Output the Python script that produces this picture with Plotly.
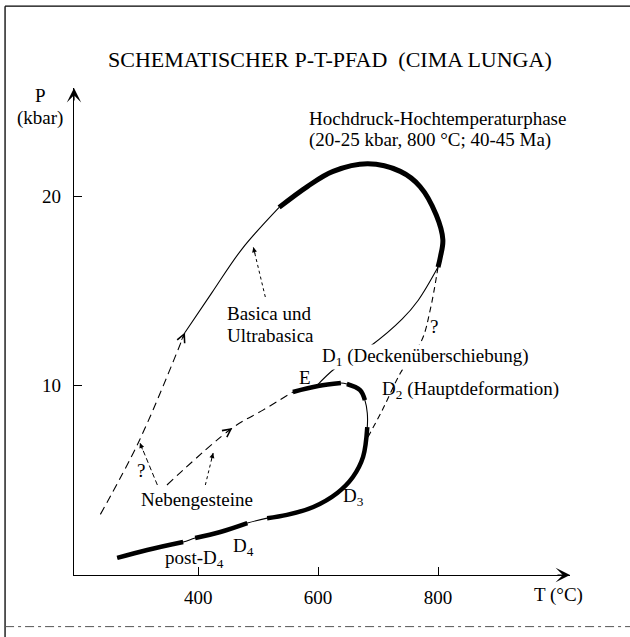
import plotly.graph_objects as go

# ---------------- data ----------------
# outer loop: Basica und Ultrabasica
outer_dashed_T = [237, 302, 378]
outer_dashed_P = [3.2, 7.1, 12.8]
outer_thin_T = [378, 423, 473, 535]
outer_thin_P = [12.8, 14.9, 17.2, 19.4]
outer_thick_T = [535, 582, 625, 683, 737, 770, 797, 808, 804, 800]
outer_thick_P = [19.4, 20.5, 21.3, 21.7, 21.3, 20.5, 19.0, 17.7, 16.8, 16.25]
return_T = [800, 767, 740, 688, 628, 598]
return_P = [16.25, 14.5, 13.5, 12.1, 10.9, 10.0]
qdash_T = [800, 787, 773, 738, 707, 680]
qdash_P = [16.25, 14.0, 12.4, 10.7, 8.7, 7.1]

# inner loop: Nebengesteine
inner_dashed_T = [348, 457, 508, 558]
inner_dashed_P = [4.75, 7.76, 8.7, 9.66]
inner_T = [558, 600, 638, 648, 670, 678, 682, 682, 675, 658, 632, 592, 548, 515,
           482, 437, 395, 375, 315, 265]
inner_P = [9.66, 9.97, 10.13, 10.08, 9.76, 9.23, 8.55, 7.8, 6.23, 5.17, 4.33, 3.59,
           3.17, 3.0, 2.74, 2.27, 1.95, 1.74, 1.32, 0.9]
inner_thick_segments = [(0, 2), (3, 5), (7, 13), (14, 16), (17, 19)]

# label pointer arrows (tail T, tail P, tip T, tip P)
q_arrow = [332, 4.75, 303, 6.97]
neben_arrow = [412, 4.75, 425, 6.44]
basica_arrow = [512, 14.67, 492, 17.3]

x_ticks = [400, 600, 800]
y_ticks = [10, 20]
T_range = [193, 1020]
P_range = [0, 25.7]

FONT = "Liberation Serif"
FS = 19

fig = go.Figure()

def line(T, P, width=1.1, dash=None):
    fig.add_trace(go.Scatter(x=T, y=P, mode="lines", hoverinfo="skip",
                             line=dict(color="black", width=width, dash=dash,
                                       shape="spline", smoothing=1.0)))

DASH = "8px,5px"
line(outer_dashed_T, outer_dashed_P, dash=DASH)
line(outer_thin_T, outer_thin_P)
line(outer_thick_T, outer_thick_P, width=5)
line(return_T, return_P)
line(qdash_T, qdash_P, dash="6px,4px")

line(inner_dashed_T, inner_dashed_P, dash=DASH)
line(inner_T, inner_P)
for a, b in inner_thick_segments:
    line(inner_T[a:b + 1], inner_P[a:b + 1], width=4.5)

line(q_arrow[0::2], q_arrow[1::2], width=1, dash="5px,3px")
line(neben_arrow[0::2], neben_arrow[1::2], width=1, dash="dot")
line(basica_arrow[0::2], basica_arrow[1::2], width=1, dash="dot")

ann = []

def head(x, y, ax, ay, style=5, size=1.6, width=1.0):
    ann.append(dict(x=x, y=y, ax=ax, ay=ay, xref="x", yref="y", text="",
                    showarrow=True, arrowhead=style, arrowsize=size,
                    arrowwidth=width, arrowcolor="black"))

# chevrons on the paths
head(outer_dashed_T[-1], outer_dashed_P[-1], -4, 9)
head(inner_dashed_T[1], inner_dashed_P[1], -8, 6)
# pointer heads
head(q_arrow[2], q_arrow[3], 3, 8, style=2, size=1.0)
head(neben_arrow[2], neben_arrow[3], -2, 8, style=2, size=1.0)
head(basica_arrow[2], basica_arrow[3], 2, 8, style=2, size=1.0)
# axis arrow heads
head(T_range[1], 0, -14, 0, style=3, size=2.0, width=1.2)
head(T_range[0], P_range[1], 0, 14, style=3, size=2.0, width=1.2)

def label(x, y, text, anchor="left", size=FS, ref="data", bg=None):
    r = ("x", "y") if ref == "data" else ("paper", "paper")
    d = dict(x=x, y=y, xref=r[0], yref=r[1], text=text, showarrow=False,
             xanchor=anchor, yanchor="middle",
             font=dict(family=FONT, size=size, color="black"))
    if bg:
        d.update(bgcolor=bg, borderpad=0)
    ann.append(d)

label(0.516, 1.0575, "SCHEMATISCHER P-T-PFAD  (CIMA LUNGA)", anchor="center",
      size=22, ref="paper")
label(-0.0685, 0.9856, "P", anchor="center", ref="paper")
label(-0.0685, 0.938, "(kbar)", anchor="center", ref="paper")
label(0.923, -0.041, "T (°C)", ref="paper")
label(582, 24.1, "Hochdruck-Hochtemperaturphase")
label(582, 22.95, "(20-25 kbar, 800 °C; 40-45 Ma)")
label(445, 13.8, "Basica und")
label(445, 12.66, "Ultrabasica")
label(605, 11.5, "D<sub>1</sub> (Deckenüberschiebung)", bg="white")
label(578, 10.4, "E", anchor="center")
label(703, 9.76, "D<sub>2</sub> (Hauptdeformation)")
label(793, 13.1, "?", anchor="center")
label(305, 5.54, "?", anchor="center")
label(302, 3.96, "Nebengesteine")
label(638, 4.12, "D<sub>3</sub>")
label(455, 1.48, "D<sub>4</sub>")
label(342, 0.84, "post-D<sub>4</sub>")

axis_common = dict(showgrid=False, zeroline=False, showline=True, linecolor="black",
                   linewidth=1.3, ticks="inside", ticklen=8, tickwidth=1,
                   tickcolor="black", automargin=False,
                   tickfont=dict(family=FONT, size=FS, color="black"))

fig.update_layout(
    width=630, height=637, template="none",
    margin=dict(l=74, r=60, t=88, b=62),
    paper_bgcolor="white", plot_bgcolor="white", showlegend=False,
    xaxis=dict(range=T_range, tickvals=x_ticks, ticklabelstandoff=5, **axis_common),
    yaxis=dict(range=P_range, tickvals=y_ticks, ticklabelstandoff=8, **axis_common),
    annotations=ann,
    shapes=[
        dict(type="line", xref="paper", yref="paper", x0=-0.139, x1=1.2,
             y0=1.168, y1=1.168, line=dict(color="black", width=1.3)),
        dict(type="line", xref="paper", yref="paper", x0=-0.139, x1=-0.139,
             y0=1.168, y1=-0.13, line=dict(color="black", width=1.3)),
        dict(type="line", xref="paper", yref="paper", x0=-0.139, x1=1.2,
             y0=-0.106, y1=-0.106, line=dict(color="#555", width=1, dash="9px,4px,3px,4px")),
    ],
)

fig.write_html("out.html", config={"displayModeBar": False},
               post_script="document.body.style.margin='0px';")
